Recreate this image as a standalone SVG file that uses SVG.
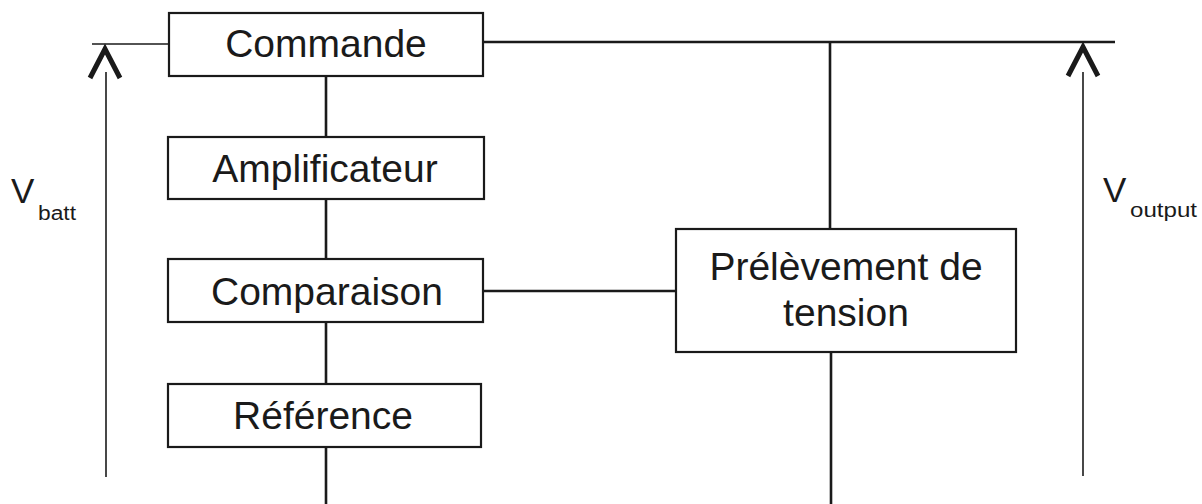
<svg xmlns="http://www.w3.org/2000/svg" width="1202" height="504" viewBox="0 0 1202 504">
<style>
.box{fill:#fff;stroke:#1a1a1a;stroke-width:2.2}
.lbl{font-family:"Liberation Sans",Arial,sans-serif;font-size:39px;fill:#1a1a1a;text-anchor:middle}
.wire{stroke:#1a1a1a;stroke-width:2.6;fill:none}
.thin{stroke:#1a1a1a;stroke-width:1.6;fill:none}
.chev{stroke:#1a1a1a;stroke-width:5;fill:none;stroke-linejoin:miter}
.v{font-family:"Liberation Sans",Arial,sans-serif;font-size:35px;fill:#1a1a1a}
.sub{font-family:"Liberation Sans",Arial,sans-serif;font-size:20px;fill:#1a1a1a}
</style>
<rect width="1202" height="504" fill="#fff"/>
<g id="connectors">
<line class="thin" x1="92" y1="44" x2="169" y2="44"/>
<line class="wire" x1="483" y1="42" x2="1115" y2="42" stroke-width="3.2"/>
<line class="wire" x1="326" y1="76" x2="326" y2="137"/>
<line class="wire" x1="326" y1="199" x2="326" y2="259"/>
<line class="wire" x1="326" y1="322" x2="326" y2="384"/>
<line class="wire" x1="326" y1="447" x2="326" y2="504"/>
<line class="wire" x1="483" y1="291" x2="676" y2="291"/>
<line class="wire" x1="830" y1="42" x2="830" y2="229"/>
<line class="wire" x1="831" y1="352" x2="831" y2="504"/>
<line class="thin" x1="106" y1="72" x2="106" y2="477"/>
<polyline class="chev" points="90,78 105,49 120,78"/>
<line class="thin" x1="1083" y1="72" x2="1083" y2="476"/>
<polyline class="chev" points="1068,76 1083,47 1098,76"/>
</g>
<g id="commande">
<rect class="box" x="169" y="13" width="314" height="63"/>
<text class="lbl" x="326" y="57">Commande</text>
</g>
<g id="amplificateur">
<rect class="box" x="168" y="137" width="316" height="62"/>
<text class="lbl" x="325" y="182">Amplificateur</text>
</g>
<g id="comparaison">
<rect class="box" x="168" y="259" width="315" height="63"/>
<text class="lbl" x="327" y="305">Comparaison</text>
</g>
<g id="reference">
<rect class="box" x="168" y="384" width="313" height="63"/>
<text class="lbl" x="323" y="429">Référence</text>
</g>
<g id="prelevement">
<rect class="box" x="676" y="229" width="340" height="123"/>
<text class="lbl" x="846" y="280" font-size="37">Prélèvement de</text>
<text class="lbl" x="846" y="326" font-size="37">tension</text>
</g>
<g id="vbatt">
<text class="v" x="11" y="203">V</text>
<text class="sub" x="38" y="220" textLength="38" lengthAdjust="spacingAndGlyphs">batt</text>
</g>
<g id="voutput">
<text class="v" x="1103" y="202">V</text>
<text class="sub" x="1130" y="217" textLength="67" lengthAdjust="spacingAndGlyphs">output</text>
</g>
</svg>
